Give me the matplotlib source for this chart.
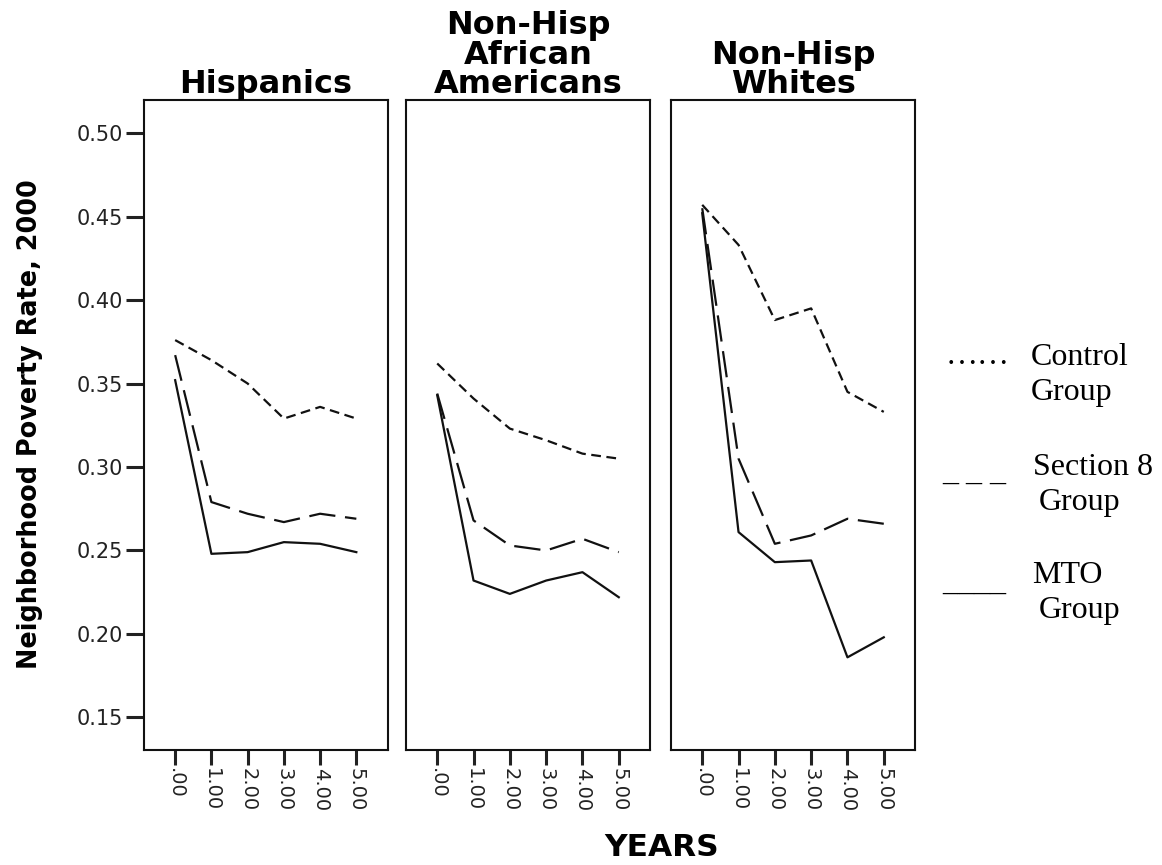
import matplotlib
matplotlib.use("Agg")
import matplotlib.pyplot as plt

plt.rcParams['lines.scale_dashes'] = False

years = [0, 1, 2, 3, 4, 5]
year_labels = [".00", "1.00", "2.00", "3.00", "4.00", "5.00"]
y_ticks = [0.15, 0.20, 0.25, 0.30, 0.35, 0.40, 0.45, 0.50]
y_tick_labels = ["0.15", "0.20", "0.25", "0.30", "0.35", "0.40", "0.45", "0.50"]

panel_titles = ["Hispanics", "Non-Hisp\nAfrican\nAmericans", "Non-Hisp\nWhites"]

control = [
    [0.376, 0.364, 0.350, 0.329, 0.336, 0.329],
    [0.362, 0.341, 0.323, 0.316, 0.308, 0.305],
    [0.457, 0.433, 0.388, 0.395, 0.345, 0.333],
]
section8 = [
    [0.367, 0.279, 0.272, 0.267, 0.272, 0.269],
    [0.344, 0.268, 0.253, 0.250, 0.257, 0.249],
    [0.455, 0.305, 0.254, 0.259, 0.269, 0.266],
]
mto = [
    [0.352, 0.248, 0.249, 0.255, 0.254, 0.249],
    [0.343, 0.232, 0.224, 0.232, 0.237, 0.222],
    [0.452, 0.261, 0.243, 0.244, 0.186, 0.198],
]

W, H = 1162, 865
fig = plt.figure(figsize=(W / 100, H / 100), dpi=100)

lefts = [144, 406, 671]
widths = [243.5, 244, 244]
top_px, bot_px = 100, 750

for i in range(3):
    ax = fig.add_axes([lefts[i] / W, 1 - bot_px / H, widths[i] / W, (bot_px - top_px) / H])
    ax.plot(years, control[i], color='#111111', lw=1.6, dashes=(7, 4), dash_capstyle='butt')
    ax.plot(years, section8[i], color='#111111', lw=1.6, dashes=(19, 7), dash_capstyle='butt')
    ax.plot(years, mto[i], color='#111111', lw=1.6)
    ax.set_xlim(-0.86, 5.86)
    ax.set_ylim(0.1305, 0.5198)
    ax.set_xticks(years)
    ax.set_xticklabels(year_labels, rotation=270, fontsize=14, color='#222222',
                       family='DejaVu Sans', va='top', ha='center')
    for s in ax.spines.values():
        s.set_linewidth(1.5)
        s.set_color('#111111')
    ax.tick_params(axis='x', length=11, width=2.2, pad=2, color='#222222')
    if i == 0:
        ax.set_yticks(y_ticks)
        ax.set_yticklabels(y_tick_labels, fontsize=15, color='#222222', family='DejaVu Sans')
        ax.tick_params(axis='y', length=13, width=2.2, pad=2, color='#222222')
    else:
        ax.set_yticks([])
    ax.set_title(panel_titles[i], fontsize=23, fontweight='bold', family='DejaVu Sans',
                 pad=1, linespacing=0.93)

fig.text(30 / W, 1 - 424 / H, "Neighborhood Poverty Rate, 2000", rotation=90,
         fontsize=18.4, fontweight='bold', family='DejaVu Sans', ha='center', va='center')
fig.text(662 / W, 1 - 847 / H, "YEARS", fontsize=22.5, fontweight='bold',
         family='DejaVu Sans', ha='center', va='center')

serif = 'Liberation Serif'
leg_fs = 23
fig.text(946 / W, 1 - 364 / H, "……", fontsize=leg_fs, family=serif, va='baseline', ha='left')
fig.text(1031 / W, 1 - 365 / H, "Control", fontsize=leg_fs, family=serif, va='baseline', ha='left')
fig.text(1031 / W, 1 - 400 / H, "Group", fontsize=leg_fs, family=serif, va='baseline', ha='left')
fig.text(942 / W, 1 - 480 / H, "_ _ _", fontsize=leg_fs, family=serif, va='baseline', ha='left')
fig.text(1033 / W, 1 - 475 / H, "Section 8", fontsize=leg_fs, family=serif, va='baseline', ha='left')
fig.text(1039 / W, 1 - 510 / H, "Group", fontsize=leg_fs, family=serif, va='baseline', ha='left')
fig.text(942 / W, 1 - 590 / H, "____", fontsize=leg_fs, family=serif, va='baseline', ha='left')
fig.text(1032 / W, 1 - 583 / H, "MTO", fontsize=leg_fs, family=serif, va='baseline', ha='left')
fig.text(1039 / W, 1 - 618 / H, "Group", fontsize=leg_fs, family=serif, va='baseline', ha='left')

fig.savefig("out.png", dpi=100)
